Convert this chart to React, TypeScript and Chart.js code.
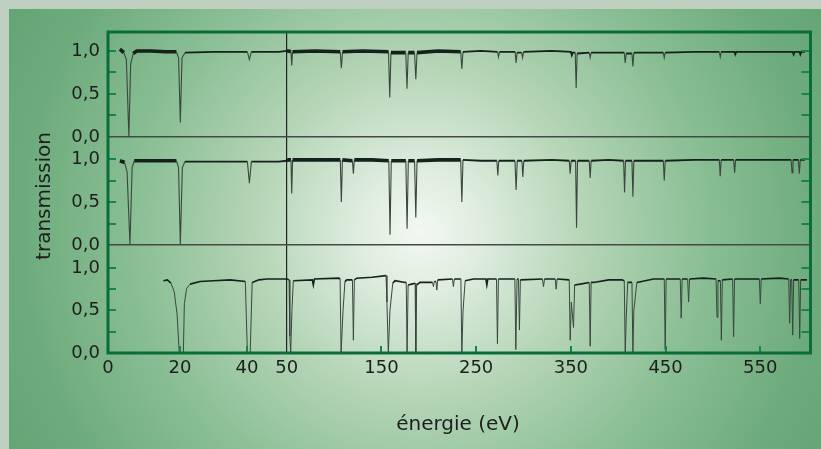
import React, { useEffect, useRef } from 'react';
import { Chart, registerables, LinearScale } from 'chart.js';

// ---------------- DATA ----------------
const X_TICKS = [0, 20, 40, 50, 150, 250, 350, 450, 550];
const X_TICK_MARKS = [20, 40, 150, 250, 350, 450, 550];
const Y_TICKS = [0, 0.25, 0.5, 0.75, 1];
const Y_LABELS: Record<string, string> = { '0': '0,0', '0.5': '0,5', '1': '1,0' };
const X_TITLE = 'énergie (eV)';
const Y_TITLE = 'transmission';

// energy (eV), transmission
const topSpectrum: [number, number][] = [
  [3.3, 1.02], [4.4, 0.98], [5.1, 0.9], [5.8, 0.0], [6.3, 0.85], [7.0, 0.97], [8.0, 1.0], [12, 1.0], [16, 0.99],
  [19.0, 0.99], [19.6, 0.92], [20.1, 0.17], [20.6, 0.92], [21.5, 0.98], [30, 0.99], [40.1, 0.99], [40.6, 0.9],
  [41.1, 0.99], [48, 0.99], [50, 1.0],
  [52, 1.0], [54.5, 0.99], [55.3, 0.83], [56.2, 0.99], [80, 1.0], [106.5, 0.99], [107.7, 0.8], [109, 0.99],
  [130, 1.0], [157.5, 0.99], [158.8, 0.46], [160.1, 0.98], [175.7, 0.98], [177, 0.56], [178.3, 0.98], [185, 0.98],
  [186.3, 0.67], [187.6, 0.98], [210, 1.0], [233.7, 0.99], [234.9, 0.79], [236.1, 0.99], [255, 1.0], [272.6, 0.99],
  [273.6, 0.93], [274.6, 0.99], [291.2, 0.99], [292.2, 0.86], [293.2, 0.98], [298, 0.98], [299, 0.92], [300, 0.99],
  [330, 1.0], [350, 0.99], [351, 0.95], [352, 0.98], [354.6, 0.98], [355.6, 0.57], [356.6, 0.97], [369.4, 0.98],
  [370.4, 0.92], [371.4, 0.98], [406.4, 0.98], [407.4, 0.86], [408.4, 0.97], [414.5, 0.97], [415.5, 0.82],
  [416.5, 0.98], [447.6, 0.98], [448.6, 0.92], [449.6, 0.98], [480, 0.99], [506.7, 0.99], [507.7, 0.93],
  [508.7, 0.99], [522.6, 0.99], [523.6, 0.96], [524.6, 0.99], [560, 0.99], [584.2, 0.99], [585.2, 0.96],
  [586.2, 0.99], [591.3, 0.99], [592.3, 0.96], [593.3, 0.99], [597, 0.99],
];

const middleSpectrum: [number, number][] = [
  [3.3, 0.98], [4.6, 0.96], [5.3, 0.85], [6.1, 0.0], [6.7, 0.9], [7.3, 0.98], [12, 0.98], [16, 0.98], [19.0, 0.98],
  [19.6, 0.9], [20.1, 0.0], [20.7, 0.9], [21.5, 0.97], [30, 0.97], [40.1, 0.97], [40.6, 0.72], [41.1, 0.97],
  [48, 0.97], [50, 0.98],
  [52, 0.99], [54.5, 0.99], [55.3, 0.6], [56.2, 0.99], [80, 0.99], [106.6, 0.99], [107.7, 0.5], [108.8, 0.99],
  [119.4, 0.98], [120.4, 0.83], [121.4, 0.99], [140, 0.99], [157.8, 0.98], [159.1, 0.12], [160.4, 0.98],
  [175.8, 0.98], [177.1, 0.19], [178.4, 0.98], [185, 0.98], [186.3, 0.32], [187.6, 0.98], [210, 0.99],
  [233.7, 0.99], [234.9, 0.5], [236.1, 0.99], [255, 0.98], [271.9, 0.98], [272.9, 0.81], [273.9, 0.98],
  [291, 0.98], [292.2, 0.64], [293.4, 0.98], [298.3, 0.98], [299.3, 0.79], [300.3, 0.98], [330, 0.99],
  [348.3, 0.98], [349.3, 0.83], [350.3, 0.98], [355, 0.98], [356, 0.2], [357, 0.98], [369.4, 0.98], [370.4, 0.78],
  [371.4, 0.98], [390, 0.99], [405.7, 0.98], [406.7, 0.61], [407.7, 0.98], [414.5, 0.98], [415.5, 0.56],
  [416.5, 0.98], [447.6, 0.98], [448.6, 0.75], [449.6, 0.98], [480, 0.99], [506.7, 0.99], [507.7, 0.8],
  [508.7, 0.99], [521.9, 0.99], [522.9, 0.84], [523.9, 0.99], [560, 0.99], [582.5, 0.99], [583.5, 0.84],
  [584.5, 0.99], [590.2, 0.99], [591.2, 0.83], [592.2, 0.99], [597, 0.99],
];

const bottomSpectrum: [number, number][] = [
  [15.4, 0.85], [16.5, 0.86], [17.5, 0.82], [18.4, 0.72], [19.2, 0.45], [19.8, 0.0], [21.0, 0.0], [21.3, 0.58],
  [22.0, 0.76], [23.0, 0.81], [26, 0.84], [30, 0.85], [35, 0.86], [39.5, 0.84], [40.1, 0.0], [40.8, 0.0],
  [41.3, 0.83], [43, 0.86], [45, 0.87], [50, 0.87],
  [52.5, 0.86], [53.3, 0.2], [54.2, 0.0], [55.5, 0.5], [57, 0.85], [77, 0.86], [78.1, 0.8], [79.2, 0.87],
  [105, 0.88], [106.4, 0.87], [107.4, 0.0], [109.5, 0.5], [111.5, 0.84], [113.4, 0.86], [119.4, 0.86],
  [120.4, 0.15], [121.4, 0.86], [124, 0.88], [140, 0.89], [154.9, 0.91], [155.8, 0.6], [157.3, 0.0], [159, 0.5],
  [162, 0.82], [164.4, 0.85], [175, 0.83], [176.2, 0.83], [177.1, 0.0], [178.2, 0.8], [182, 0.81], [185.6, 0.82],
  [186.3, 0.0], [187.2, 0.8], [190.8, 0.83], [204, 0.83], [204.9, 0.78], [205.8, 0.84], [207.6, 0.84],
  [208.5, 0.74], [209.4, 0.86], [225, 0.87], [226, 0.78], [227, 0.87], [233.9, 0.87], [234.9, 0.0], [236.2, 0.5],
  [238.4, 0.85], [247.1, 0.87], [260.3, 0.87], [261.3, 0.8], [262.3, 0.87], [271.5, 0.87], [272.5, 0.11],
  [273.5, 0.87], [290.9, 0.87], [291.9, 0.04], [293.2, 0.87], [294.7, 0.87], [295.7, 0.27], [296.7, 0.86],
  [320, 0.87], [321.1, 0.78], [322.2, 0.87], [333.5, 0.87], [334.5, 0.75], [335.5, 0.87], [348.3, 0.86],
  [349.3, 0.15], [350.5, 0.6], [352.8, 0.3], [354, 0.8], [359.8, 0.81], [369.4, 0.83], [370.4, 0.08],
  [371.4, 0.83], [374, 0.83], [390, 0.86], [403.9, 0.86], [406.4, 0.85], [407.4, 0.0], [408.4, 0.4], [410, 0.83],
  [414.5, 0.83], [415.5, 0.0], [416.5, 0.5], [419.7, 0.83], [437.3, 0.87], [448.6, 0.87], [449.6, 0.04],
  [450.6, 0.87], [465.5, 0.87], [466.5, 0.41], [467.5, 0.87], [473.3, 0.87], [474.3, 0.6], [475.3, 0.87],
  [490, 0.88], [503.3, 0.87], [504.3, 0.42], [505.3, 0.85], [507.9, 0.85], [508.9, 0.15], [509.9, 0.86],
  [520.8, 0.87], [521.8, 0.19], [522.8, 0.87], [549, 0.87], [550, 0.58], [551, 0.87], [570, 0.88], [580, 0.87],
  [581, 0.35], [582, 0.86], [583.2, 0.86], [584.2, 0.21], [585.2, 0.86], [590.6, 0.86], [591.6, 0.17],
  [592.6, 0.86], [599.3, 0.86],
];

// ---------------- LAYOUT / STYLE ----------------
const W = 821;
const H = 449;
const FONT = '"DejaVu Sans", Verdana, sans-serif';
const AREA = { left: 108, top: 32, right: 810.5, bottom: 353 };
// broken energy axis: energy knots -> fraction of the axis width
const E_KNOTS = [0, 20, 40, 50, 603];
const F_KNOTS = [0, 72 / 702.5, 139 / 702.5, 178.7 / 702.5, 1];

function energyToFraction(e: number): number {
  for (let i = 1; i < E_KNOTS.length; i++) {
    if (e <= E_KNOTS[i] || i === E_KNOTS.length - 1) {
      const t = (e - E_KNOTS[i - 1]) / (E_KNOTS[i] - E_KNOTS[i - 1]);
      return F_KNOTS[i - 1] + t * (F_KNOTS[i] - F_KNOTS[i - 1]);
    }
  }
  return 0;
}
function fractionToEnergy(f: number): number {
  for (let i = 1; i < F_KNOTS.length; i++) {
    if (f <= F_KNOTS[i] || i === F_KNOTS.length - 1) {
      const t = (f - F_KNOTS[i - 1]) / (F_KNOTS[i] - F_KNOTS[i - 1]);
      return E_KNOTS[i - 1] + t * (E_KNOTS[i] - E_KNOTS[i - 1]);
    }
  }
  return 0;
}

class BrokenEnergyScale extends LinearScale {
  static id = 'brokenEnergy';
  static defaults = LinearScale.defaults;
  getPixelForValue(value: number) {
    if (value === null || value === undefined || Number.isNaN(value)) return NaN;
    return this.getPixelForDecimal(energyToFraction(value));
  }
  getValueForPixel(pixel: number) {
    return fractionToEnergy(this.getDecimalForPixel(pixel));
  }
}

Chart.register(...registerables, BrokenEnergyScale);

const FRAME_GREEN = '#0a6c38';
const TICK_GREEN = '#17844a';
const TEXT = '#1e1e1e';

const backgroundPlugin = {
  id: 'bg',
  beforeDraw(chart: any) {
    const ctx = chart.ctx;
    ctx.save();
    ctx.fillStyle = '#bfcfbf';
    ctx.fillRect(0, 0, W, H);
    const g = ctx.createRadialGradient(420, 232, 0, 420, 232, 470);
    g.addColorStop(0, '#f3f8f2');
    g.addColorStop(0.12, '#e0eee0');
    g.addColorStop(0.35, '#b5d5b7');
    g.addColorStop(0.6, '#8bbf95');
    g.addColorStop(0.85, '#6dab7c');
    g.addColorStop(1, '#64a574');
    ctx.fillStyle = g;
    ctx.fillRect(9, 9, W - 9, H - 9);
    ctx.restore();
  },
};

const framePlugin = {
  id: 'frame',
  afterDraw(chart: any) {
    const ctx = chart.ctx;
    const a = chart.chartArea;
    ctx.save();
    // inward tick marks
    ctx.strokeStyle = TICK_GREEN;
    ctx.lineWidth = 2;
    ['yTop', 'yMid', 'yBot'].forEach((id) => {
      const s = chart.scales[id];
      [0.25, 0.5, 0.75, 1].forEach((v) => {
        const y = Math.round(s.getPixelForValue(v));
        ctx.beginPath();
        ctx.moveTo(a.left, y);
        ctx.lineTo(a.left + 8, y);
        ctx.moveTo(a.right - 9, y);
        ctx.lineTo(a.right, y);
        ctx.stroke();
      });
    });
    const xs = chart.scales.x;
    X_TICK_MARKS.forEach((v) => {
      const x = Math.round(xs.getPixelForValue(v));
      ctx.beginPath();
      ctx.moveTo(x, a.bottom);
      ctx.lineTo(x, a.bottom - 7);
      ctx.stroke();
    });
    // frame
    ctx.strokeStyle = FRAME_GREEN;
    ctx.lineWidth = 3;
    ctx.strokeRect(a.left, a.top, a.right - a.left, a.bottom - a.top);
    // titles
    ctx.fillStyle = TEXT;
    ctx.font = `20px ${FONT}`;
    ctx.textAlign = 'center';
    ctx.textBaseline = 'alphabetic';
    ctx.fillText(X_TITLE, 458, 430);
    ctx.translate(50, 196);
    ctx.rotate(-Math.PI / 2);
    ctx.fillText(Y_TITLE, 0, 0);
    ctx.restore();
  },
};

function yAxis(max: number, weight: number) {
  return {
    type: 'linear',
    position: 'left',
    stack: 'panels',
    stackWeight: weight,
    min: 0,
    max,
    afterBuildTicks: (axis: any) => {
      axis.ticks = Y_TICKS.map((v) => ({ value: v }));
    },
    afterFit: (axis: any) => {
      axis.width = AREA.left;
    },
    border: { display: false },
    grid: {
      drawTicks: false,
      lineWidth: 1.5,
      color: (c: any) => (c.tick && c.tick.value === 0 ? '#454a46' : 'rgba(0,0,0,0)'),
    },
    ticks: {
      autoSkip: false,
      padding: 8,
      color: TEXT,
      font: { family: FONT, size: 18 },
      callback: (v: number) => Y_LABELS[String(v)] ?? '',
    },
  };
}

function lineDataset(points: [number, number][], axisId: string, heavy: boolean) {
  return {
    data: points.map(([x, y]) => ({ x, y })),
    xAxisID: 'x',
    yAxisID: axisId,
    borderColor: '#1b2922',
    borderWidth: 1.5,
    pointRadius: 0,
    tension: 0,
    fill: false,
    segment: {
      borderWidth: (c: any) => {
        const a = c.p0.parsed;
        const b = c.p1.parsed;
        if (heavy) {
          if (a.y >= 0.95 && b.y >= 0.95) {
            const inBand = (a.x >= 3 && b.x <= 19.2) || (a.x >= 50 && b.x <= 245);
            return inBand ? 3.6 : 1.8;
          }
          return 1.1;
        }
        return a.y >= 0.8 && b.y >= 0.8 ? 1.6 : 1.0;
      },
      borderColor: (c: any) => {
        const a = c.p0.parsed;
        const b = c.p1.parsed;
        const base = heavy ? 0.95 : 0.8;
        return a.y >= base && b.y >= base ? '#15211b' : '#3b4640';
      },
    },
  };
}

export default function App() {
  const ref = useRef<HTMLCanvasElement>(null);
  useEffect(() => {
    const canvas = ref.current;
    if (!canvas) return;
    const chart = new Chart(canvas, {
      type: 'line',
      data: {
        datasets: [
          lineDataset(topSpectrum, 'yTop', true),
          lineDataset(middleSpectrum, 'yMid', true),
          lineDataset(bottomSpectrum, 'yBot', false),
        ] as any,
      },
      options: {
        responsive: false,
        maintainAspectRatio: false,
        devicePixelRatio: 1,
        animation: false,
        events: [],
        layout: { padding: { left: 0, top: AREA.top, right: W - AREA.right, bottom: 0 } },
        plugins: { legend: { display: false }, tooltip: { enabled: false } },
        scales: {
          x: {
            type: 'brokenEnergy',
            position: 'bottom',
            min: 0,
            max: 603,
            afterBuildTicks: (axis: any) => {
              axis.ticks = X_TICKS.map((v) => ({ value: v }));
            },
            afterFit: (axis: any) => {
              axis.height = H - AREA.bottom;
            },
            border: { display: false },
            grid: {
              drawTicks: false,
              lineWidth: 1.2,
              color: (c: any) => (c.tick && c.tick.value === 50 ? '#1e2420' : 'rgba(0,0,0,0)'),
            },
            ticks: {
              autoSkip: false,
              maxRotation: 0,
              padding: 5,
              color: TEXT,
              font: { family: FONT, size: 18 },
              callback: (v: number) => String(v),
            },
          },
          yBot: yAxis(1.27, 108),
          yMid: yAxis(1.256, 108),
          yTop: yAxis(1.22, 105),
        } as any,
      },
      plugins: [backgroundPlugin, framePlugin],
    });
    return () => chart.destroy();
  }, []);
  return (
    <div style={{ position: 'fixed', left: 0, top: 0, width: W, height: H }}>
      <canvas ref={ref} width={W} height={H} style={{ display: 'block', width: W, height: H }} />
    </div>
  );
}
